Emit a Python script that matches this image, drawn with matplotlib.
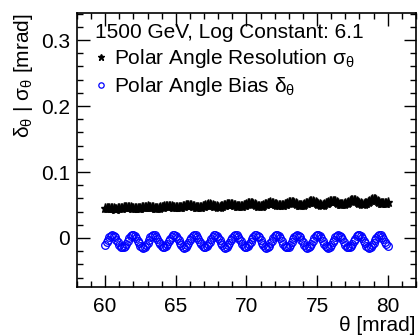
import numpy as np
import matplotlib.pyplot as plt
from matplotlib.ticker import MultipleLocator

plt.rcParams['font.family'] = ['Liberation Sans', 'DejaVu Sans']
plt.rcParams['mathtext.fontset'] = 'custom'
plt.rcParams['mathtext.rm'] = 'Liberation Sans'
plt.rcParams['mathtext.it'] = 'Liberation Sans'

# theta in mrad, 0.1 mrad steps from 60 to 80
theta = np.round(np.arange(60.0, 80.001, 0.1), 1)

# polar angle resolution sigma_theta [mrad]
resolution = [
    0.0458, 0.0459, 0.0458, 0.0456, 0.0453, 0.0450, 0.0447, 0.0446, 0.0445, 0.0447,
    0.0450, 0.0454, 0.0459, 0.0463, 0.0467, 0.0468, 0.0468, 0.0466, 0.0463, 0.0459,
    0.0455, 0.0453, 0.0451, 0.0452, 0.0454, 0.0459, 0.0464, 0.0470, 0.0474, 0.0477,
    0.0479, 0.0477, 0.0474, 0.0470, 0.0465, 0.0461, 0.0458, 0.0457, 0.0459, 0.0463,
    0.0469, 0.0475, 0.0481, 0.0486, 0.0488, 0.0488, 0.0485, 0.0481, 0.0475, 0.0470,
    0.0466, 0.0464, 0.0464, 0.0467, 0.0473, 0.0479, 0.0487, 0.0493, 0.0497, 0.0498,
    0.0497, 0.0493, 0.0487, 0.0480, 0.0474, 0.0471, 0.0469, 0.0471, 0.0476, 0.0483,
    0.0491, 0.0499, 0.0505, 0.0508, 0.0508, 0.0505, 0.0499, 0.0492, 0.0485, 0.0479,
    0.0476, 0.0476, 0.0479, 0.0486, 0.0494, 0.0503, 0.0511, 0.0516, 0.0518, 0.0517,
    0.0512, 0.0504, 0.0497, 0.0489, 0.0484, 0.0482, 0.0483, 0.0489, 0.0497, 0.0507,
    0.0516, 0.0523, 0.0527, 0.0528, 0.0524, 0.0518, 0.0508, 0.0500, 0.0492, 0.0488,
    0.0488, 0.0492, 0.0499, 0.0509, 0.0520, 0.0529, 0.0536, 0.0538, 0.0537, 0.0531,
    0.0522, 0.0512, 0.0503, 0.0497, 0.0493, 0.0495, 0.0501, 0.0511, 0.0521, 0.0533,
    0.0542, 0.0547, 0.0548, 0.0544, 0.0536, 0.0526, 0.0516, 0.0506, 0.0501, 0.0500,
    0.0504, 0.0512, 0.0523, 0.0535, 0.0546, 0.0555, 0.0558, 0.0557, 0.0550, 0.0540,
    0.0529, 0.0518, 0.0510, 0.0506, 0.0507, 0.0513, 0.0524, 0.0537, 0.0549, 0.0560,
    0.0567, 0.0568, 0.0564, 0.0555, 0.0543, 0.0531, 0.0520, 0.0514, 0.0511, 0.0516,
    0.0525, 0.0537, 0.0551, 0.0564, 0.0574, 0.0578, 0.0577, 0.0570, 0.0559, 0.0546,
    0.0533, 0.0523, 0.0518, 0.0519, 0.0525, 0.0537, 0.0551, 0.0566, 0.0578, 0.0586,
    0.0588, 0.0584, 0.0575, 0.0561, 0.0548, 0.0535, 0.0527, 0.0524, 0.0527, 0.0537,
    0.0551,
]

# polar angle bias delta_theta [mrad]
bias = [
    -0.0103, -0.0065, -0.0024, 0.0012, 0.0036, 0.0045, 0.0036, 0.0012, -0.0024, -0.0065,
    -0.0103, -0.0131, -0.0144, -0.0140, -0.0120, -0.0086, -0.0046, -0.0007, 0.0024, 0.0042,
    0.0043, 0.0027, -0.0003, -0.0042, -0.0083, -0.0117, -0.0139, -0.0145, -0.0133, -0.0106,
    -0.0069, -0.0028, 0.0009, 0.0034, 0.0045, 0.0038, 0.0015, -0.0020, -0.0061, -0.0099,
    -0.0129, -0.0144, -0.0142, -0.0123, -0.0090, -0.0051, -0.0011, 0.0022, 0.0041, 0.0044,
    0.0029, 0.0000, -0.0038, -0.0079, -0.0114, -0.0137, -0.0145, -0.0135, -0.0109, -0.0073,
    -0.0032, 0.0005, 0.0032, 0.0045, 0.0039, 0.0018, -0.0016, -0.0056, -0.0096, -0.0126,
    -0.0143, -0.0143, -0.0125, -0.0094, -0.0055, -0.0015, 0.0019, 0.0040, 0.0044, 0.0032,
    0.0004, -0.0034, -0.0075, -0.0111, -0.0136, -0.0145, -0.0137, -0.0113, -0.0077, -0.0037,
    0.0002, 0.0030, 0.0044, 0.0041, 0.0021, -0.0012, -0.0052, -0.0092, -0.0124, -0.0142,
    -0.0143, -0.0128, -0.0098, -0.0059, -0.0019, 0.0016, 0.0039, 0.0045, 0.0034, 0.0007,
    -0.0030, -0.0070, -0.0107, -0.0134, -0.0145, -0.0138, -0.0116, -0.0081, -0.0041, -0.0002,
    0.0028, 0.0043, 0.0042, 0.0024, -0.0008, -0.0048, -0.0088, -0.0121, -0.0141, -0.0144,
    -0.0130, -0.0101, -0.0063, -0.0023, 0.0013, 0.0037, 0.0045, 0.0036, 0.0011, -0.0026,
    -0.0066, -0.0104, -0.0132, -0.0145, -0.0140, -0.0119, -0.0085, -0.0045, -0.0006, 0.0025,
    0.0043, 0.0043, 0.0026, -0.0005, -0.0044, -0.0084, -0.0118, -0.0140, -0.0145, -0.0132,
    -0.0105, -0.0067, -0.0027, 0.0010, 0.0035, 0.0045, 0.0037, 0.0014, -0.0022, -0.0062,
    -0.0100, -0.0130, -0.0144, -0.0141, -0.0122, -0.0089, -0.0049, -0.0009, 0.0023, 0.0042,
    0.0044, 0.0029, -0.0001, -0.0040, -0.0080, -0.0115, -0.0138, -0.0145, -0.0134, -0.0108,
    -0.0072, -0.0031, 0.0006, 0.0033, 0.0045, 0.0039, 0.0017, -0.0018, -0.0058, -0.0097,
    -0.0127,
]

fig = plt.figure(figsize=(4.18, 3.35), dpi=100)
ax = fig.add_axes([0.184, 0.143, 0.811, 0.818])

ax.plot(theta, resolution, linestyle='none', marker='*', markersize=6.5,
        color='black', label='Polar Angle Resolution σ$_{\\rm θ}$')
ax.plot(theta, bias, linestyle='none', marker='o', markersize=5.5,
        markerfacecolor='none', markeredgecolor='#0000ff', markeredgewidth=0.9,
        label='Polar Angle Bias δ$_{\\rm θ}$')

ax.set_xlim(58, 82)
ax.set_ylim(-0.0745, 0.341)
ax.xaxis.set_major_locator(MultipleLocator(5))
ax.xaxis.set_minor_locator(MultipleLocator(1))
ax.yaxis.set_minor_locator(MultipleLocator(0.02))
ax.set_yticks([0, 0.1, 0.2, 0.3])
ax.set_yticklabels(['0', '0.1', '0.2', '0.3'])
ax.tick_params(which='both', direction='in', top=True, right=True, labelsize=15)
ax.tick_params(which='major', length=9, width=1)
ax.tick_params(which='minor', length=4.5, width=1)
ax.tick_params(axis='x', pad=7)
ax.tick_params(axis='y', pad=5)
for s in ax.spines.values():
    s.set_linewidth(1.2)

ax.set_xlabel('θ [mrad]', fontsize=15, loc='right', labelpad=0)
ax.set_ylabel('δ$_{\\rm θ}$ | σ$_{\\rm θ}$ [mrad]', fontsize=15, loc='top', labelpad=4)

leg = ax.legend(loc='upper left', bbox_to_anchor=(0.01, 1.018), frameon=False,
                fontsize=15, title='1500 GeV, Log Constant: 6.1', title_fontsize=15,
                handlelength=0.6, handletextpad=0.3, labelspacing=0.25,
                borderpad=0.2, markerscale=0.7)
leg._legend_box.align = 'left'

fig.savefig('out.png', dpi=100)
